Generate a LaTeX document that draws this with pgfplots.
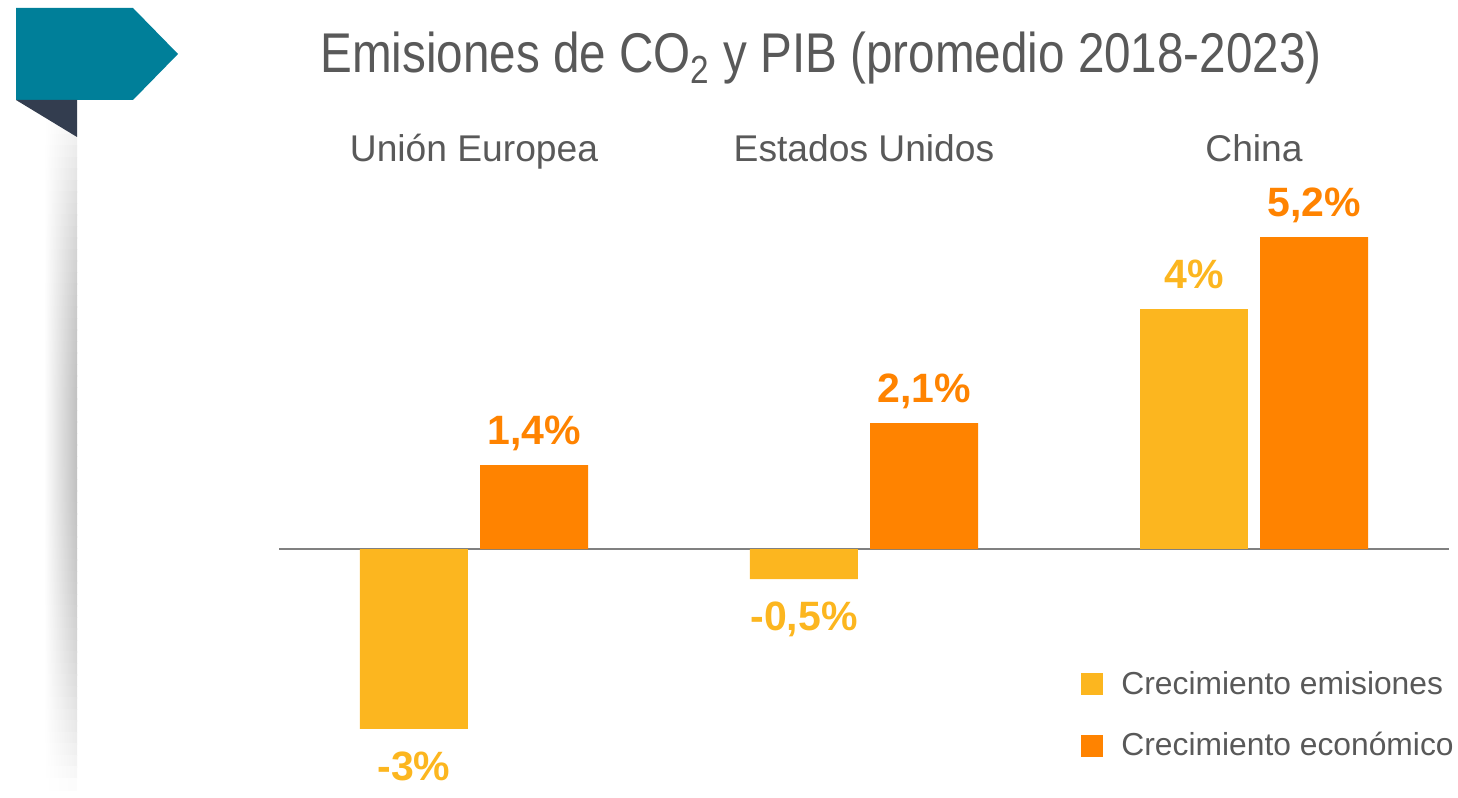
\documentclass[border=0pt]{standalone}
\usepackage{pgfplots}
\pgfplotsset{compat=1.18}
\usepackage{fontspec}
\setmainfont{Liberation Sans}
\newfontfamily\titlefont[FakeStretch=0.85]{Liberation Sans}
\definecolor{myteal}{HTML}{007F99}
\definecolor{mydark}{HTML}{333D4F}
\definecolor{myyellow}{HTML}{FCB61F}
\definecolor{myorange}{HTML}{FF8300}
\definecolor{textgray}{HTML}{595959}
\definecolor{zerogray}{HTML}{808080}
\begin{document}
\begin{tikzpicture}
\path[use as bounding box] (0,0) rectangle (729pt,399pt);
% left shadow (decoration), drawn as thin shaded strips
\foreach \i in {0,...,59}{
  \pgfmathsetmacro\t{(\i+0.5)/60}
  \pgfmathsetmacro\d{25*(sin(180*\t))^0.8}
  \pgfmathsetmacro\ya{349-\i*5.75}
  \pgfmathsetmacro\yb{\ya-6.0}
  \shade[left color=white, right color=black!\d, shading angle=90] (22pt,\ya pt) rectangle (38.5pt,\yb pt);
}
% teal arrow and dark fold
\fill[myteal] (8pt,395pt) -- (66.5pt,395pt) -- (89pt,372pt) -- (66.5pt,349pt) -- (8pt,349pt) -- cycle;
\fill[mydark] (8pt,349pt) -- (38.5pt,349pt) -- (38.5pt,330.5pt) -- cycle;
% title
\node[anchor=base, text=textgray, inner sep=0pt, font=\titlefont\fontsize{28}{32}\selectfont] at (410.5pt,362.5pt) {Emisiones de CO\textsubscript{2} y PIB (promedio 2018-2023)};
\begin{axis}[
  at={(139.5pt,19.5pt)}, anchor=south west, scale only axis,
  width=585pt, height=291pt,
  xmin=-0.5, xmax=2.5, ymin=-3.5, ymax=6.2,
  axis line style={draw=none},
  ytick=\empty,
  xtick={0,1,2}, xticklabels={Unión Europea, Estados Unidos, China},
  xticklabel pos=upper, major tick length=0pt,
  xticklabel style={font=\fontsize{18.6}{22}\selectfont, text=textgray, text depth=4pt},
  extra y ticks={0}, extra y tick labels={},
  extra y tick style={grid=major, major grid style={draw=zerogray, line width=1pt}, major tick length=0pt},
  ybar, bar width=0.277,
  clip=false,
  point meta=explicit symbolic,
  nodes near coords,
  every node near coord/.append style={font=\bfseries\fontsize{20.5}{24}\selectfont, inner xsep=0pt},
  pos/.style={every node near coord/.append style={anchor=south, inner ysep=10pt, text depth=0pt}},
  neg/.style={every node near coord/.append style={anchor=north, inner ysep=11pt}},
  legend image code/.code={\fill (0pt,-5.5pt) rectangle (11pt,5.5pt);},
  legend style={at={(0.6855,0.158)}, anchor=north west, draw=none, fill=none,
    font=\fontsize{15.9}{18}\selectfont, text=textgray, row sep=13.5pt, inner sep=0pt,
    /tikz/every odd column/.append style={column sep=7pt}},
  legend cell align=left,
]
\addplot[fill=myyellow, draw=none, bar shift=-0.154, pos, every node near coord/.append style={text=myyellow}]
  coordinates {(2,4) [4\%]};
\addlegendentry{Crecimiento emisiones}
\addplot[fill=myorange, draw=none, bar shift=0.154, pos, every node near coord/.append style={text=myorange}]
  coordinates {(0,1.4) [1,4\%] (1,2.1) [2,1\%] (2,5.2) [5,2\%]};
\addlegendentry{Crecimiento económico}
\addplot[fill=myyellow, draw=none, bar shift=-0.154, neg, forget plot, every node near coord/.append style={text=myyellow}]
  coordinates {(0,-3) [-3\%] (1,-0.5) [-0,5\%]};
\end{axis}
\end{tikzpicture}
\end{document}
